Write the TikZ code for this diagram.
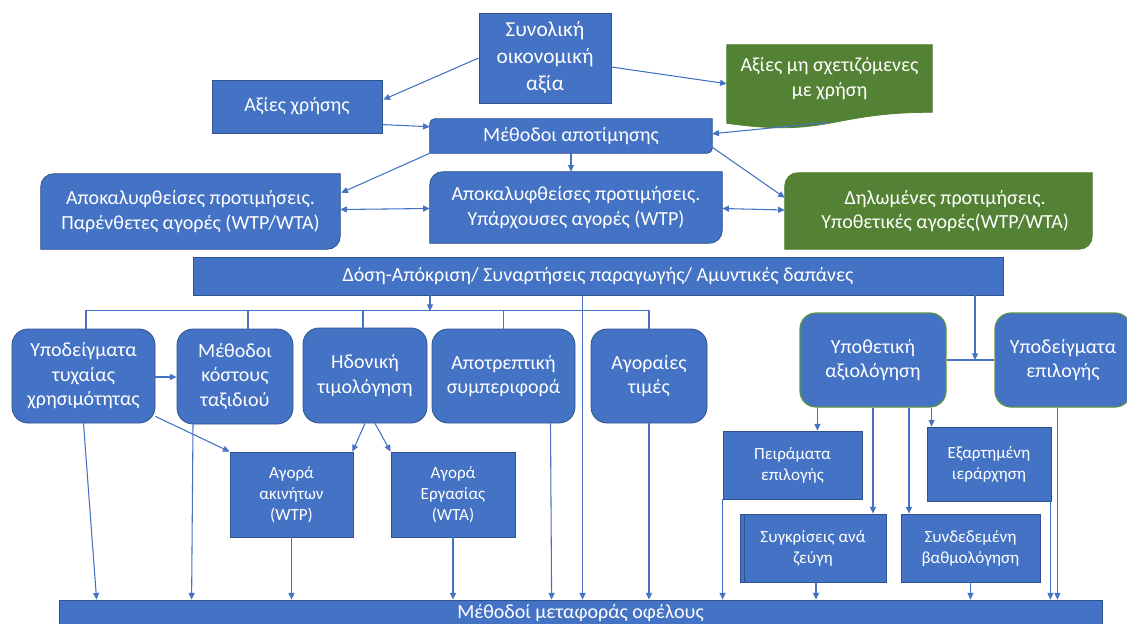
\documentclass[tikz,border=0pt]{standalone}
\usepackage{fontspec}
\setmainfont{Carlito}
\usetikzlibrary{arrows.meta,calc,backgrounds}
\definecolor{bfill}{HTML}{4472C4}
\definecolor{bdraw}{HTML}{2F528F}
\definecolor{gfill}{HTML}{548235}
\definecolor{gdraw}{HTML}{5E9440}
\definecolor{lcol}{HTML}{4472C4}
\newcommand\fsz[2]{\fontsize{#1}{#2}\selectfont}
\tikzset{
  txt/.style={text=white, align=center, inner sep=0pt, font=\fsz{15}{18.3}},
  box/.style={txt, fill=bfill, draw=bdraw, line width=0.6pt},
  rbox/.style={box, rounded corners=12pt},
  gbox/.style={rbox, draw=gdraw, line width=0.9pt},
  sbox/.style={box, font=\fsz{12.8}{15.8}},
  bshape/.style={fill=bfill, draw=bdraw, line width=0.6pt},
  gshape/.style={fill=gfill, draw=gfill, line width=0.6pt},
  conn/.style={draw=lcol, line width=0.8pt},
  arr/.style={conn, -{Triangle[length=5pt,width=4.5pt]}},
  darr/.style={conn, {Triangle[length=5pt,width=4.5pt]}-{Triangle[length=5pt,width=4.5pt]}}
}
\begin{document}
\begin{tikzpicture}[x=0.75pt,y=-0.75pt]
\useasboundingbox (0,0) rectangle (1127,624);

% top level
\node[box, minimum width=99pt, minimum height=67.5pt, font=\fsz{16}{20.2}] (tot) at (545,58) {Συνολική\\οικονομική\\αξία};
\node[box, minimum width=127.5pt, minimum height=39.75pt] (use) at (297,106.5) {Αξίες χρήσης};
\node[txt, minimum width=211.5pt, minimum height=25.5pt] (meth) at (571,136) {Μέθοδοι αποτίμησης};
\node[txt, minimum width=153.75pt, minimum height=50.25pt] (nonuse) at (829.5,78.5) {Αξίες μη σχετιζόμενες\\με χρήση};
\node[txt, minimum width=224.25pt, minimum height=56.25pt] (par) at (190.5,211.5) {Αποκαλυφθείσες προτιμήσεις.\\Παρένθετες αγορές (WTP/WTA)};
\node[txt, minimum width=219pt, minimum height=53.25pt] (hyp) at (576,207.5) {Αποκαλυφθείσες προτιμήσεις.\\Υπάρχουσες αγορές (WTP)};
\node[txt, minimum width=230.25pt, minimum height=57pt] (stated) at (938.5,211) {\hspace*{10pt}Δηλωμένες προτιμήσεις.\\\hspace*{10pt}Υποθετικές αγορές(WTP/WTA)};
\node[box, minimum width=607.5pt, minimum height=28.5pt] (dose) at (598,276) {Δόση-Απόκριση/ Συναρτήσεις παραγωγής/ Αμυντικές δαπάνες};
\node[box, minimum width=782.25pt, minimum height=19.5pt] (ben) at (580.5,613) {Μέθοδοί μεταφοράς οφέλους};

% row 2
\node[rbox, minimum width=107.25pt, minimum height=70.5pt] (rum) at (83.5,376) {Υποδείγματα\\τυχαίας\\χρησιμότητας};
\node[rbox, minimum width=87pt, minimum height=71.25pt] (tcm) at (235,376.5) {Μέθοδοι\\κόστους\\ταξιδιού};
\node[rbox, minimum width=93pt, minimum height=71.25pt] (hed) at (365,375.5) {Ηδονική\\τιμολόγηση};
\node[rbox, minimum width=107.25pt, minimum height=70.5pt] (avert) at (503.5,376) {Αποτρεπτική\\συμπεριφορά};
\node[rbox, minimum width=87pt, minimum height=70.5pt] (mkt) at (649,376) {Αγοραίες\\τιμές};
\node[gbox, minimum width=109.5pt, minimum height=70.5pt] (cv) at (873,360) {Υποθετική\\αξιολόγηση};
\node[gbox, minimum width=102pt, minimum height=70.5pt] (ce) at (1063,360) {Υποδείγματα\\επιλογής};

% row 3
\node[sbox, minimum width=92.25pt, minimum height=63.75pt] (re) at (291.5,494.5) {Αγορά\\ακινήτων\\(WTP)};
\node[sbox, minimum width=93pt, minimum height=63.75pt] (lab) at (453,494.5) {Αγορά\\Εργασίας\\(WTA)};
\node[sbox, minimum width=104.25pt, minimum height=51pt] (cexp) at (792.5,465) {Πειράματα\\επιλογής};
\node[sbox, minimum width=93pt, minimum height=55.5pt] (rank) at (989,464) {Εξαρτημένη\\ιεράρχηση};
\node[sbox, minimum width=109.5pt, minimum height=51pt] (pair) at (813,548) {Συγκρίσεις ανά\\ζεύγη};
\node[sbox, minimum width=104.25pt, minimum height=51pt] (rate) at (970.5,548) {Συνδεδεμένη\\βαθμολόγηση};
\draw[draw=bdraw, line width=0.6pt] ($(pair.north west)+(5,0)$) -- ($(pair.south west)+(5,0)$);

% shapes behind text
\begin{scope}[on background layer]
\path[bshape] (meth.south west) -- ($(meth.north west)+(0,5)$) arc[start angle=180,end angle=90,radius=3.75pt] -- (meth.north east) -- ($(meth.south east)+(0,-5)$) arc[start angle=0,end angle=-90,radius=3.75pt] -- cycle;
\path[bshape] (par.south west) -- ($(par.north west)+(0,13)$) arc[start angle=180,end angle=90,radius=9.75pt] -- (par.north east) -- ($(par.south east)+(0,-13)$) arc[start angle=0,end angle=-90,radius=9.75pt] -- cycle;
\path[bshape] (hyp.south west) -- ($(hyp.north west)+(0,13)$) arc[start angle=180,end angle=90,radius=9.75pt] -- (hyp.north east) -- ($(hyp.south east)+(0,-13)$) arc[start angle=0,end angle=-90,radius=9.75pt] -- cycle;
\path[gshape] (stated.south west) -- ($(stated.north west)+(0,13)$) arc[start angle=180,end angle=90,radius=9.75pt] -- (stated.north east) -- ($(stated.south east)+(0,-13)$) arc[start angle=0,end angle=-90,radius=9.75pt] -- cycle;
\path[gshape] (nonuse.north west) -- (nonuse.north east) -- (nonuse.south east) .. controls (nonuse.south) and ($(nonuse.south)+(0,25.5)$) .. ($(nonuse.south west)+(0,11)$) -- cycle;
\end{scope}

% top connectors
\draw[arr] (tot.west) -- ($(use.north east)+(1,20)$);
\draw[arr] ($(tot.east)+(0,9)$) -- ($(nonuse.north west)+(0,39)$);
\draw[arr] ($(use.north east)+(0,45)$) -- ($(meth.north west)+(0,8)$);
\draw[arr] ($(nonuse.south)+(0,10)$) -- ($(meth.north east)+(0,15)$);
\draw[arr] (meth.south west) -- ($(par.north east)+(1,19)$);
\draw[arr] (meth.south) -- (meth.south |- hyp.north);
\draw[arr] ($(meth.south east)+(0,-6)$) -- ($(stated.north west)+(0,25)$);
\draw[darr] ($(par.east)+(0,-2)$) -- ($(hyp.west)+(0,1)$);
\draw[darr] ($(hyp.east)+(0,1)$) -- ($(stated.west)+(0,-1)$);

% dose connectors
\coordinate (j1) at (430,311);
\draw[arr] (dose.south -| j1) -- (j1);
\draw[conn] ($(rum.north)+(2.5,0)$) -- ++(0,-18) -| (mkt.north);
\draw[conn] ($(tcm.north)+(13,0)$) -- ++(0,-18);
\draw[conn] ($(hed.north)+(-2,0)$) -- ++(0,-18);
\draw[conn] (avert.north) -- ++(0,-18);
\draw[arr] ($(dose.south west)+(390,0)$) coordinate (d2) -- (d2 |- ben.north);
\coordinate (j3) at (975,360);
\draw[arr] (dose.south -| j3) -- (j3);
\draw[conn] (cv.east) -- (ce.west);

% row 2 connectors
\draw[arr] ($(rum.east)+(0,1)$) -- ($(tcm.west)+(0,0.5)$);
\draw[arr] ($(rum.south east)+(0,-7)$) -- (re.north west);
\draw[arr] (rum.south) -- ($(ben.north west)+(38,0)$);
\draw[arr] ($(tcm.south)+(-42,0)$) -- ($(ben.north west)+(133,0)$);
\draw[arr] (hed.south) -- ($(re.north east)+(-1,0)$);
\draw[arr] ($(hed.south)+(10,0)$) -- (lab.north west);
\draw[arr] (re.south) -- (re.south |- ben.north);
\draw[arr] (lab.south) -- (lab.south |- ben.north);
\draw[arr] ($(avert.south)+(47,0)$) -- ($(ben.north west)+(493,0)$);
\draw[arr] (mkt.south) -- (mkt.south |- ben.north);

% right connectors
\draw[arr] ($(cv.south west)+(18,0)$) coordinate (s1) -- (s1 |- cexp.north);
\draw[arr] (cv.south) -- (cv.south |- pair.north);
\draw[arr] ($(cv.south)+(36,0)$) coordinate (s3) -- (s3 |- rate.north);
\draw[arr] ($(cv.south east)+(-15,0)$) coordinate (s4) -- (s4 |- rank.north);
\draw[arr] (cexp.south west) -- (cexp.south west |- ben.north);
\draw[arr] ($(pair.south)+(3,0)$) coordinate (s6) -- (s6 |- ben.north);
\draw[arr] (rate.south) -- (rate.south |- ben.north);
\draw[arr] ($(rank.south east)+(-1,0)$) coordinate (s8) -- (s8 |- ben.north);
\draw[arr] ($(ce.south west)+(63,0)$) coordinate (s9) -- (s9 |- ben.north);
\end{tikzpicture}
\end{document}
